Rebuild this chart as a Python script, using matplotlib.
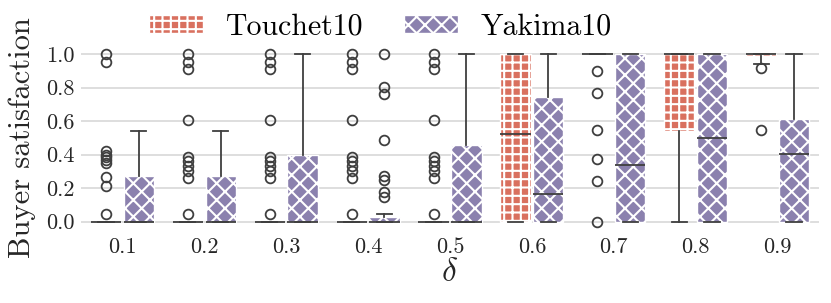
import matplotlib
matplotlib.use("Agg")
import matplotlib.pyplot as plt
from matplotlib.patches import Patch

plt.rcParams['font.family'] = ['cmr10', 'DejaVu Serif']
plt.rcParams['mathtext.fontset'] = 'cm'
plt.rcParams['axes.formatter.use_mathtext'] = True
plt.rcParams['hatch.color'] = 'white'
plt.rcParams['hatch.linewidth'] = 1.5

categories = ['0.1', '0.2', '0.3', '0.4', '0.5', '0.6', '0.7', '0.8', '0.9']
series = ['Touchet10', 'Yakima10']

touchet_q1 = [0, 0, 0, 0, 0, 0, 1.0, 0.54, 0.985]
touchet_med = [0, 0, 0, 0, 0, 0.52, 1.0, 1.0, 1.0]
touchet_q3 = [0, 0, 0, 0, 0, 1.0, 1.0, 1.0, 1.0]
touchet_lo = [0, 0, 0, 0, 0, 0, 1.0, 0, 0.94]
touchet_hi = [0, 0, 0, 0, 0, 1.0, 1.0, 1.0, 1.0]
touchet_fliers = [
    [1.0, 0.955, 0.42, 0.40, 0.385, 0.365, 0.35, 0.265, 0.215, 0.045],
    [1.0, 0.955, 0.91, 0.605, 0.385, 0.36, 0.335, 0.30, 0.26, 0.045],
    [1.0, 0.955, 0.91, 0.605, 0.385, 0.36, 0.335, 0.30, 0.26, 0.045],
    [1.0, 0.955, 0.91, 0.605, 0.385, 0.36, 0.335, 0.30, 0.26, 0.045],
    [1.0, 0.955, 0.91, 0.605, 0.385, 0.36, 0.335, 0.30, 0.26, 0.045],
    [],
    [0.90, 0.77, 0.545, 0.375, 0.24, 0.0],
    [],
    [0.915, 0.545],
]

yakima_q1 = [0, 0, 0, 0, 0, 0, 0, 0, 0]
yakima_med = [0, 0, 0, 0, 0, 0.165, 0.34, 0.50, 0.405]
yakima_q3 = [0.27, 0.27, 0.40, 0.03, 0.455, 0.745, 1.0, 1.0, 0.615]
yakima_lo = [0, 0, 0, 0, 0, 0, 0, 0, 0]
yakima_hi = [0.54, 0.54, 1.0, 0.045, 1.0, 1.0, 1.0, 1.0, 1.0]
yakima_fliers = [
    [], [], [],
    [1.0, 0.805, 0.76, 0.485, 0.275, 0.25, 0.175, 0.145],
    [], [], [], [], [],
]

colors = ['#D9705F', '#8B81AE']
hatches = ['++', 'xx']
line_color = '#3f3f3f'

fig = plt.figure(figsize=(8.31, 3.03), dpi=100)
ax = fig.add_axes([0.098, 0.2406, 0.887, 0.609])


def make_stats(q1, med, q3, lo, hi, fl):
    return [dict(q1=a, med=b, q3=c, whislo=d, whishi=e, fliers=f)
            for a, b, c, d, e, f in zip(q1, med, q3, lo, hi, fl)]


groups = [
    make_stats(touchet_q1, touchet_med, touchet_q3, touchet_lo, touchet_hi, touchet_fliers),
    make_stats(yakima_q1, yakima_med, yakima_q3, yakima_lo, yakima_hi, yakima_fliers),
]
offsets = [-0.2, 0.2]
width = 0.37

for stats, off, col, h in zip(groups, offsets, colors, hatches):
    pos = [i + off for i in range(len(categories))]
    res = ax.bxp(stats, positions=pos, widths=width, patch_artist=True,
                 manage_ticks=False,
                 boxprops=dict(facecolor=col, edgecolor='white', linewidth=1.0),
                 medianprops=dict(color=line_color, linewidth=1.3),
                 whiskerprops=dict(color=line_color, linewidth=1.3),
                 capprops=dict(color=line_color, linewidth=1.3),
                 flierprops=dict(marker='o', markerfacecolor='none',
                                 markeredgecolor=line_color, markersize=7,
                                 markeredgewidth=1.3, linestyle='none'),
                 zorder=2)
    for b in res['boxes']:
        b.set_hatch(h)

ax.set_xlim(-0.5, len(categories) - 0.5)
ax.set_ylim(-0.05, 1.05)
ax.set_xticks(range(len(categories)))
ax.set_xticklabels(categories)
ax.set_yticks([0, 0.2, 0.4, 0.6, 0.8, 1.0])
ax.set_yticklabels(['0.0', '0.2', '0.4', '0.6', '0.8', '1.0'])
ax.tick_params(axis='both', length=0, labelsize=16, labelcolor='#262626', pad=5)
ax.yaxis.grid(True, color='#d4d4d4', linewidth=1.1, zorder=0)
ax.set_axisbelow(True)
for s in ax.spines.values():
    s.set_visible(False)

ax.set_ylabel('Buyer satisfaction', fontsize=22, color='#262626', labelpad=7)
ax.set_xlabel(r'$\delta$', fontsize=24, color='#262626', labelpad=1)

handles = [Patch(facecolor=c, edgecolor='white', hatch=h, linewidth=1.0)
           for c, h in zip(colors, hatches)]
fig.legend(handles, series, loc='center', bbox_to_anchor=(0.458, 0.91),
           ncol=2, frameon=False, fontsize=21.5, handlelength=1.8,
           handleheight=0.55, handletextpad=0.78, columnspacing=1.35)

fig.savefig('out.png', dpi=100)
